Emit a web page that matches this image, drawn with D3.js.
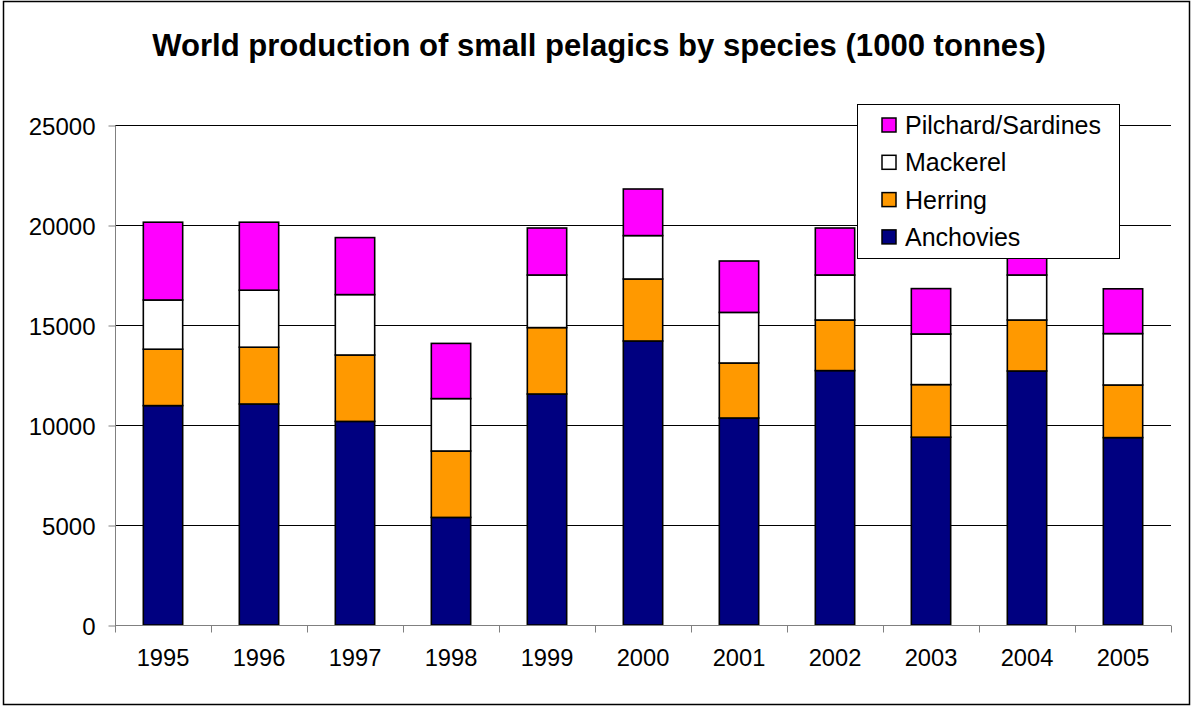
<!DOCTYPE html>
<html><head><meta charset="utf-8">
<script src="https://cdn.jsdelivr.net/npm/d3@7"></script>
<style>body{margin:0;background:#fff;} svg{display:block;font-family:"Liberation Sans",Arial,sans-serif;}</style>
</head><body>
<svg id="c" width="1192" height="706"></svg>
<script>
const years = ["1995","1996","1997","1998","1999","2000","2001","2002","2003","2004","2005"];
const anchovies = [10970, 11050, 10180, 5380, 11550, 14200, 10350, 12720, 9390, 12700, 9370];
const herring   = [2820, 2840, 3320, 3320, 3320, 3100, 2750, 2530, 2630, 2550, 2630];
const mackerel  = [2460, 2850, 3020, 2620, 2630, 2170, 2530, 2250, 2530, 2250, 2570];
const pilchard  = [3890, 3400, 2850, 2760, 2350, 2330, 2570, 2350, 2270, 2350, 2240];
const seriesNames = ["Anchovies","Herring","Mackerel","Pilchard/Sardines"];
const seriesColors = ["#000080","#FF9900","#FFFFFF","#FF00FF"];
const yTicks = [0,5000,10000,15000,20000,25000];
const title = "World production of small pelagics by species (1000 tonnes)";

const svg = d3.select("#c");
svg.append("rect").attr("x",3.5).attr("y",1.5).attr("width",1186).attr("height",703)
  .attr("fill","#fff").attr("stroke","#000").attr("stroke-width",1.5);

const L=115, R=1171, T=125, B=625;
const x = d3.scaleBand().domain(years).range([L,R]).paddingInner(0.59).paddingOuter(0.295);
const y = d3.scaleLinear().domain([0,25000]).range([B,T]);

// gridlines
svg.append("g").selectAll("line").data(yTicks.filter(d=>d>0)).join("line")
  .attr("x1",L).attr("x2",R).attr("y1",d=>y(d)+0.5).attr("y2",d=>y(d)+0.5)
  .attr("stroke","#000").attr("stroke-width",1);

// stacked bars
const table = years.map((yr,i)=>({year:yr, Anchovies:anchovies[i], Herring:herring[i], Mackerel:mackerel[i], "Pilchard/Sardines":pilchard[i]}));
const stack = d3.stack().keys(seriesNames)(table);
svg.append("g").selectAll("g").data(stack).join("g")
  .attr("fill",(d,i)=>seriesColors[i])
  .selectAll("rect").data(d=>d).join("rect")
  .attr("x",d=>x(d.data.year)).attr("width",x.bandwidth())
  .attr("y",d=>y(d[1])).attr("height",d=>y(d[0])-y(d[1]))
  .attr("stroke","#000").attr("stroke-width",1.6);

// y axis
const yAxis = d3.axisLeft(y).tickValues(yTicks).tickSize(7).tickPadding(13).tickFormat(d3.format("d"));
const gy = svg.append("g").attr("transform",`translate(${L+0.5},0.5)`).call(yAxis);
gy.select(".domain").attr("stroke","#808080").attr("d",`M0,${T}V${B}`);
gy.selectAll(".tick line").attr("stroke","#808080");
gy.selectAll("text").attr("font-size",24).attr("fill","#000").attr("font-family","Liberation Sans, Arial, sans-serif").attr("dy","0.36em");

// x axis
const xAxis = d3.axisBottom(x).tickSize(0).tickPadding(24);
const gx = svg.append("g").attr("transform",`translate(0,${B+0.5})`).call(xAxis);
gx.select(".domain").attr("stroke","#808080").attr("d",`M${L},0H${R}`);
gx.selectAll("text").attr("font-size",23.7).attr("fill","#000").attr("font-family","Liberation Sans, Arial, sans-serif");
// category boundary ticks
const bounds = years.map(yr=>x(yr)-x.step()*x.paddingInner()/2).concat([R]);
gx.append("g").selectAll("line").data(bounds).join("line")
  .attr("x1",d=>Math.round(d)+0.5).attr("x2",d=>Math.round(d)+0.5).attr("y1",0).attr("y2",7)
  .attr("stroke","#808080");

// title
const t = svg.append("text").attr("x",599).attr("y",56).attr("text-anchor","middle")
  .attr("font-weight","bold").attr("font-size",27).text(title);
const w = t.node().getComputedTextLength();
t.attr("font-size", 27*894/w);

// legend
const lg = svg.append("g");
lg.append("rect").attr("x",857.5).attr("y",104.5).attr("width",262).attr("height",154)
  .attr("fill","#fff").attr("stroke","#000").attr("stroke-width",1);
const legendOrder = [3,2,1,0];
legendOrder.forEach((si,k)=>{
  const cy = 125 + k*37.3;
  lg.append("rect").attr("x",882).attr("y",cy-7).attr("width",14).attr("height",14)
    .attr("fill",seriesColors[si]).attr("stroke","#000").attr("stroke-width",1.5);
  lg.append("text").attr("x",905).attr("y",cy).attr("dy","0.36em")
    .attr("font-size",25).text(seriesNames[si]);
});
</script>
</body></html>
